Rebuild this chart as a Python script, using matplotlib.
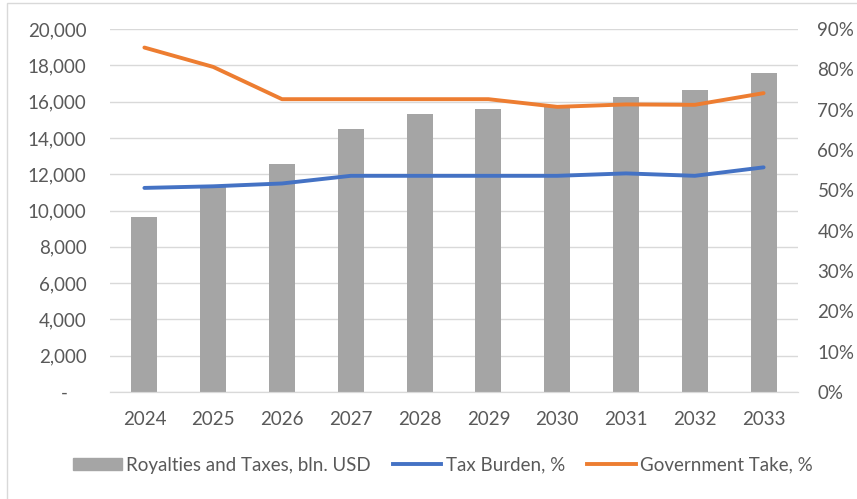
import matplotlib
matplotlib.use("Agg")
import matplotlib.pyplot as plt
from matplotlib.ticker import FuncFormatter, MultipleLocator
from matplotlib.patches import Rectangle, Patch
from matplotlib.lines import Line2D
import numpy as np

years = ["2024", "2025", "2026", "2027", "2028", "2029", "2030", "2031", "2032", "2033"]
royalties = [9640, 11300, 12550, 14480, 15310, 15610, 15800, 16270, 16640, 17560]
tax_burden = [50.6, 51.0, 51.7, 53.6, 53.6, 53.6, 53.6, 54.2, 53.6, 55.7]
gov_take = [85.4, 80.6, 72.6, 72.6, 72.6, 72.6, 70.7, 71.3, 71.2, 74.1]

plt.rcParams['font.family'] = ['Lato', 'DejaVu Sans']
txt = '#595959'
grid = '#d9d9d9'
fs = 13.5

fig = plt.figure(figsize=(8.57, 4.99), dpi=100)
W, H = 857, 499
ax = fig.add_axes([110 / W, 1 - 392 / H, (798 - 110) / W, (392 - 29) / H])
ax2 = ax.twinx()

x = np.arange(len(years))
ax.bar(x, royalties, width=0.38, color='#a5a5a5', zorder=2)
ax.set_ylim(0, 20000)
ax.set_xlim(-0.5, len(years) - 0.5)
ax.yaxis.set_major_locator(MultipleLocator(2000))
ax.yaxis.set_major_formatter(FuncFormatter(lambda v, p: "-    " if v == 0 else f"{int(v):,}"))
ax.grid(axis='y', color=grid, lw=1, zorder=0)
ax.set_axisbelow(True)
ax.set_xticks(x)
ax.set_xticklabels(years)

ax2.plot(x, tax_burden, color='#4472c4', lw=2.8, solid_capstyle='round', zorder=3)
ax2.plot(x, gov_take, color='#ed7d31', lw=2.8, solid_capstyle='round', zorder=3)
ax2.set_ylim(0, 90)
ax2.yaxis.set_major_locator(MultipleLocator(10))
ax2.yaxis.set_major_formatter(FuncFormatter(lambda v, p: f"{int(round(v))}%"))

for a in (ax, ax2):
    for s in ['top', 'left', 'right']:
        a.spines[s].set_visible(False)
    a.spines['bottom'].set_color(grid)
    a.tick_params(length=0, colors=txt, labelsize=fs)
ax.tick_params(axis='y', pad=17)
ax.tick_params(axis='x', pad=14)
ax2.tick_params(axis='y', pad=14)

handles = [Patch(color='#a5a5a5'),
           Line2D([0], [0], color='#4472c4', lw=2.8),
           Line2D([0], [0], color='#ed7d31', lw=2.8)]
labels = ["Royalties and Taxes, bln. USD", "Tax Burden, %", "Government Take, %"]
leg = fig.legend(handles, labels, loc='center', bbox_to_anchor=(443 / W, 1 - 465 / H), ncol=3,
                 frameon=False, fontsize=fs, handlelength=2.6, handleheight=0.65,
                 handletextpad=0.25, columnspacing=1.15, labelcolor=txt)

fig.patches.append(Rectangle((7 / W, -0.01), 1.0, 1 - 3 / H + 0.01, transform=fig.transFigure,
                             fill=False, edgecolor=grid, lw=1))

fig.savefig("out.png", dpi=100)
